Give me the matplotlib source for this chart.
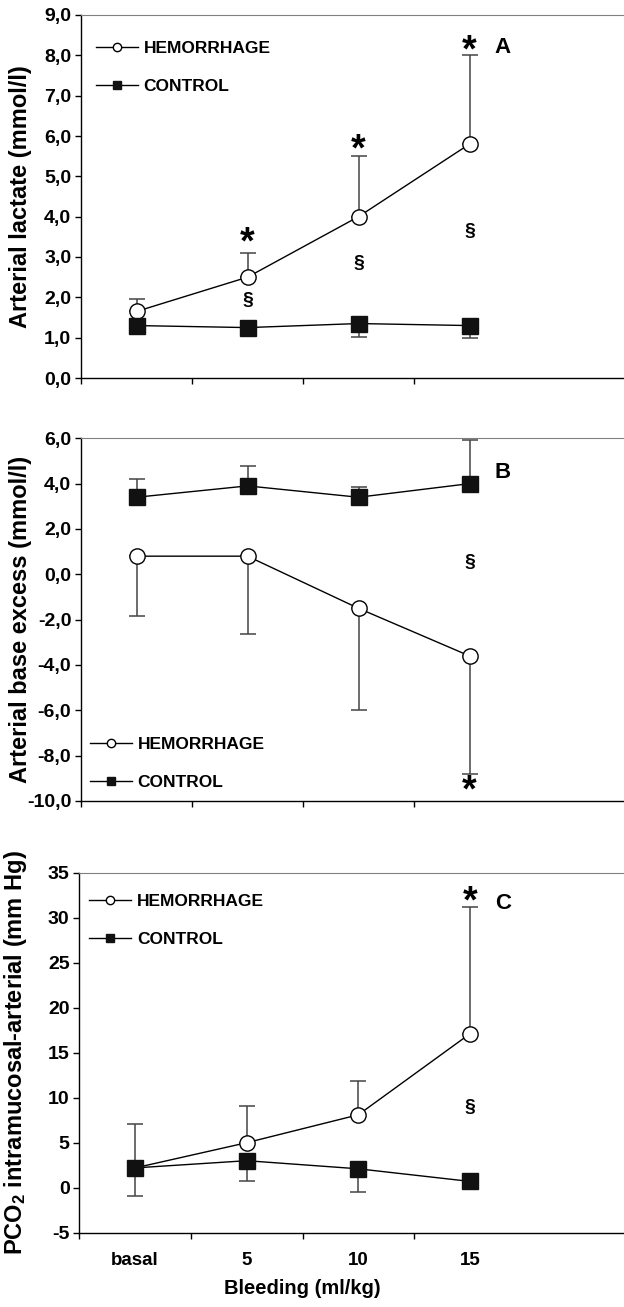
import numpy as np
import matplotlib
matplotlib.use("Agg")
from matplotlib import pyplot as plt
from matplotlib.lines import Line2D
import matplotlib.transforms as mtransforms

plt.rcParams['font.family'] = ['Liberation Sans', 'DejaVu Sans']
plt.rcParams['font.weight'] = 'bold'
plt.rcParams['mathtext.fontset'] = 'custom'
plt.rcParams['mathtext.rm'] = 'Liberation Sans:bold'
plt.rcParams['mathtext.bf'] = 'Liberation Sans:bold'
plt.rcParams['mathtext.default'] = 'bf'

# data
categories = ['basal', '5', '10', '15']

lactate_hem = [1.65, 2.5, 4.0, 5.8]
lactate_hem_err = [0.3, 0.6, 1.5, 2.2]          # upper
lactate_ctl = [1.3, 1.25, 1.35, 1.3]
lactate_ctl_err = [0.1, 0.1, 0.33, 0.31]        # lower

be_hem = [0.8, 0.8, -1.5, -3.6]
be_hem_err = [2.65, 3.45, 4.5, 5.2]             # lower
be_ctl = [3.4, 3.9, 3.4, 4.0]
be_ctl_err = [0.8, 0.9, 0.47, 1.92]             # upper

pco2_hem = [2.2, 5.0, 8.1, 17.1]
pco2_hem_err = [4.9, 4.1, 3.8, 14.1]            # upper
pco2_ctl = [2.2, 3.0, 2.1, 0.7]
pco2_ctl_err = [3.1, 2.2, 2.55, 0.0]            # lower

lactate_ticks = [0, 1, 2, 3, 4, 5, 6, 7, 8, 9]
lactate_ticklabels = ['0,0', '1,0', '2,0', '3,0', '4,0', '5,0', '6,0', '7,0', '8,0', '9,0']
be_ticks = [-10, -8, -6, -4, -2, 0, 2, 4, 6]
be_ticklabels = ['-10,0', '-8,0', '-6,0', '-4,0', '-2,0', '0,0', '2,0', '4,0', '6,0']
pco2_ticks = [-5, 0, 5, 10, 15, 20, 25, 30, 35]

# significance marks: (category index, y, symbol)
lactate_marks = [(1, 3.6, '*'), (2, 5.9, '*'), (3, 8.35, '*'),
                 (1, 1.93, '§'), (2, 2.85, '§'), (3, 3.62, '§')]
be_marks = [(3, 0.5, '§'), (3, -9.1, '*')]
pco2_marks = [(3, 32.9, '*'), (3, 8.9, '§')]

x = np.arange(len(categories)) + 0.5

fig = plt.figure(figsize=(6.24, 13.07), dpi=100)
W, H = 624.0, 1307.0


def make_ax(left, top, bottom, width=555):
    return fig.add_axes([left / W, 1 - bottom / H, width / W, (bottom - top) / H])


axA = make_ax(81, 15, 378)
axB = make_ax(81, 438.3, 801)
axC = make_ax(79.3, 872.7, 1232.7, width=558)

err_kw = dict(fmt='none', ecolor='#444444', elinewidth=1.1, capsize=6, capthick=1.1, zorder=1)


def panel(ax, hem, hem_lo, hem_hi, ctl, ctl_lo, ctl_hi):
    ax.errorbar(x, hem, yerr=[hem_lo, hem_hi], **err_kw)
    ax.errorbar(x, ctl, yerr=[ctl_lo, ctl_hi], **err_kw)
    ax.plot(x, hem, '-', color='black', lw=1, marker='o', ms=11,
            mfc='white', mec='black', mew=1, zorder=3)
    ax.plot(x, ctl, '-', color='black', lw=1, marker='s', ms=11,
            mfc='#111111', mec='#111111', mew=1, zorder=4)
    ax.set_xlim(0, 5)
    ax.set_xticks([0, 1, 2, 3])
    ax.set_xticklabels([])
    ax.set_xticks(x, minor=True)
    ax.tick_params(axis='x', which='major', direction='out', length=4, width=1)
    ax.tick_params(axis='x', which='minor', length=0)
    ax.tick_params(axis='y', direction='out', length=4, width=1, labelsize=14, pad=3)
    ax.spines['right'].set_visible(False)
    ax.spines['top'].set_color('#808080')
    ax.spines['left'].set_linewidth(1)
    ax.spines['bottom'].set_linewidth(1)


def marks(ax, items):
    for i, yv, s in items:
        if s == '*':
            tr = ax.transData + mtransforms.ScaledTranslation(0, -27 * 0.55 / 72, fig.dpi_scale_trans)
            ax.text(x[i], yv, s, fontsize=27, fontweight='bold', ha='center', va='baseline',
                    transform=tr)
        else:
            ax.text(x[i], yv, s, fontsize=14, fontweight='bold', ha='center', va='center')


def legend(ax, loc, anchor):
    handles = [Line2D([], [], color='black', lw=1, marker='o', ms=6, mfc='white', mec='black'),
               Line2D([], [], color='black', lw=1, marker='s', ms=6, mfc='#111111', mec='#111111')]
    ax.legend(handles, ['HEMORRHAGE', 'CONTROL'], loc=loc, bbox_to_anchor=anchor,
              frameon=False, handlelength=2.4, handletextpad=0.35,
              labelspacing=1.3, borderpad=0, borderaxespad=0,
              prop={'weight': 'bold', 'size': 12.5})


# panel A
panel(axA, lactate_hem, [0] * 4, lactate_hem_err, lactate_ctl, lactate_ctl_err, [0] * 4)
axA.set_ylim(0, 9)
axA.set_yticks(lactate_ticks)
axA.set_yticklabels(lactate_ticklabels)
axA.set_ylabel('Arterial lactate (mmol/l)', fontsize=17, fontweight='bold')
axA.yaxis.set_label_coords(-0.088, 0.5)
marks(axA, lactate_marks)
axA.text(3.8, 8.2, 'A', fontsize=16, fontweight='bold', ha='center', va='center')
legend(axA, 'upper left', (0.027, 0.928))

# panel B
panel(axB, be_hem, be_hem_err, [0] * 4, be_ctl, [0] * 4, be_ctl_err)
axB.set_ylim(-10, 6)
axB.set_yticks(be_ticks)
axB.set_yticklabels(be_ticklabels)
axB.set_ylabel('Arterial base excess (mmol/l)', fontsize=17, fontweight='bold')
axB.yaxis.set_label_coords(-0.088, 0.5)
marks(axB, be_marks)
axB.text(3.8, 4.5, 'B', fontsize=16, fontweight='bold', ha='center', va='center')
legend(axB, 'lower left', (0.016, 0.031))

# panel C
panel(axC, pco2_hem, [0] * 4, pco2_hem_err, pco2_ctl, pco2_ctl_err, [0] * 4)
axC.set_ylim(-5, 35)
axC.set_yticks(pco2_ticks)
axC.set_yticklabels([str(t) for t in pco2_ticks])
axC.set_xticklabels(categories, minor=True)
axC.tick_params(axis='x', which='minor', labelsize=13.5, pad=14)
axC.set_ylabel(r'PCO$_2$ intramucosal-arterial (mm Hg)', fontsize=17, fontweight='bold')
axC.yaxis.set_label_coords(-0.09, 0.5)
axC.set_xlabel('Bleeding (ml/kg)', fontsize=14.5, fontweight='bold')
axC.xaxis.set_label_coords(2.0 / 5, -0.13)
marks(axC, pco2_marks)
axC.text(3.8, 31.6, 'C', fontsize=16, fontweight='bold', ha='center', va='center')
legend(axC, 'upper left', (0.018, 0.941))

fig.savefig('out.png', dpi=100)
